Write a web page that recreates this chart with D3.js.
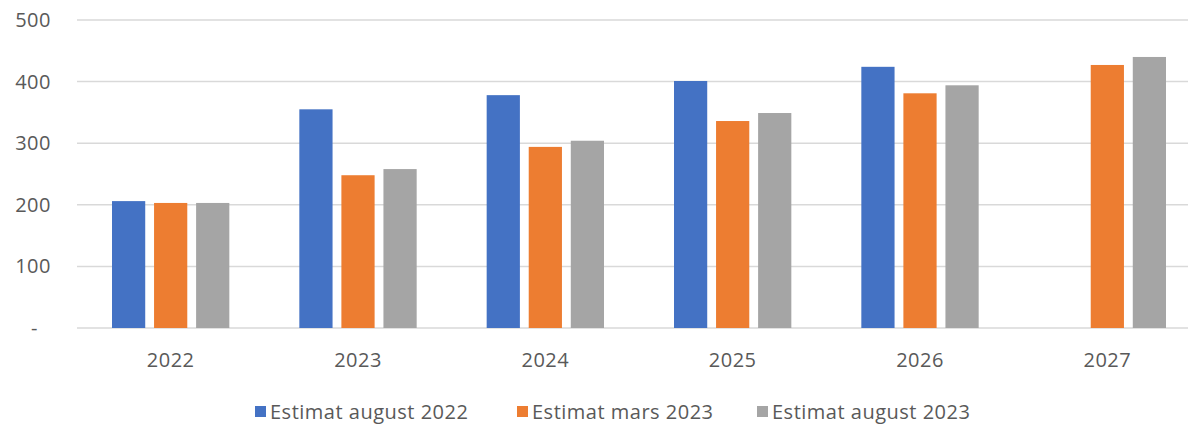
<!DOCTYPE html>
<html>
<head>
<meta charset="utf-8">
<script src="https://cdn.jsdelivr.net/npm/d3@7"></script>
<style>
  body { margin: 0; background: #fff; overflow: hidden; }
  text { font-family: "Open Sans", Lato, sans-serif; fill: #595959; letter-spacing: 0.5px; }
</style>
</head>
<body>
<div id="viz"></div>
<script>
var years = ['2022', '2023', '2024', '2025', '2026', '2027'];
var seriesNames = ['Estimat august 2022', 'Estimat mars 2023', 'Estimat august 2023'];
var estAug2022 = [206, 355, 378, 401, 424, null];
var estMars2023 = [203, 248, 294, 336, 381, 427];
var estAug2023 = [203, 258, 304, 349, 394, 440];
var yTicks = [0, 100, 200, 300, 400, 500];
var colors = ['#4472C4', '#ED7D31', '#A5A5A5'];

var width = 1188, height = 424;
var allSeries = [estAug2022, estMars2023, estAug2023];

var svg = d3.select('#viz').append('svg')
  .attr('width', width)
  .attr('height', height);

var x0 = d3.scaleBand()
  .domain(years)
  .range([77, 1201]);

var x1 = d3.scaleBand()
  .domain(d3.range(seriesNames.length))
  .range([35, x0.bandwidth() - 35])
  .paddingInner(0.21);

var y = d3.scaleLinear()
  .domain([0, 500])
  .range([328, 20]);

// gridlines
svg.selectAll('.grid')
  .data(yTicks)
  .join('line')
  .attr('x1', 77)
  .attr('x2', width)
  .attr('y1', d => y(d))
  .attr('y2', d => y(d))
  .attr('stroke', '#D9D9D9')
  .attr('stroke-width', 1.5);

// y labels
svg.selectAll('.ylab')
  .data(yTicks)
  .join('text')
  .attr('x', d => d === 0 ? 38 : 51)
  .attr('y', d => y(d))
  .attr('dy', '0.35em')
  .attr('text-anchor', 'end')
  .style('font-size', '20px')
  .text(d => d === 0 ? '-' : d);

// bars
var groups = svg.selectAll('.year')
  .data(years)
  .join('g')
  .attr('transform', d => 'translate(' + x0(d) + ',0)');

groups.selectAll('rect')
  .data((d, i) => allSeries.map((s, k) => ({ k: k, v: s[i] })).filter(e => e.v != null))
  .join('rect')
  .attr('x', d => x1(d.k))
  .attr('width', x1.bandwidth())
  .attr('y', d => y(d.v))
  .attr('height', d => y(0) - y(d.v))
  .attr('fill', d => colors[d.k]);

// x labels
svg.selectAll('.xlab')
  .data(years)
  .join('text')
  .attr('x', d => x0(d) + x0.bandwidth() / 2)
  .attr('y', 367)
  .attr('text-anchor', 'middle')
  .style('font-size', '20px')
  .text(d => d);

// legend
var legX = [255, 517, 757];
var leg = svg.selectAll('.leg')
  .data(seriesNames)
  .join('g')
  .attr('transform', (d, i) => 'translate(' + legX[i] + ',412)');

leg.append('rect')
  .attr('x', 0)
  .attr('y', -6)
  .attr('width', 11)
  .attr('height', 11)
  .attr('fill', (d, i) => colors[i]);

leg.append('text')
  .attr('x', 15)
  .attr('y', 0)
  .attr('dy', '0.35em')
  .style('font-size', '20px')
  .text(d => d);
</script>
</body>
</html>
